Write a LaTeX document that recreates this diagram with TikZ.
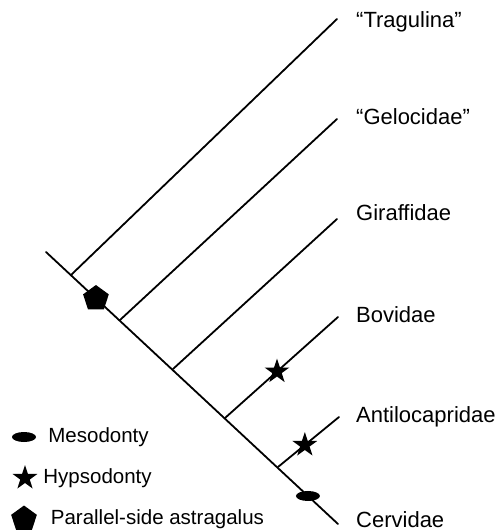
\documentclass[tikz,border=0pt]{standalone}
\usepackage{fontspec}
\setmainfont{Liberation Sans}
\usetikzlibrary{shapes.geometric, positioning, calc}

\begin{document}
\begin{tikzpicture}[x=1pt, y=-1pt,
          branch/.style={line width=1.8pt, line cap=round},
          taxon/.style={anchor=west, inner sep=0pt,
                        font=\fontsize{22}{26}\selectfont},
          keytext/.style={anchor=west, inner sep=0pt,
                        font=\fontsize{20.5}{24}\selectfont},
          meso/.style={ellipse, fill=black, inner sep=0pt,
                       minimum width=24pt, minimum height=10pt},
          hypso/.style={star, star points=5, star point ratio=2.6,
                        fill=black, inner sep=0pt, minimum size=26pt},
          astra/.style={regular polygon, regular polygon sides=5,
                        fill=black, inner sep=0pt, minimum size=27pt}
        ]
        \useasboundingbox (0,0) rectangle (503,531);

        % main stem and its joints
        \coordinate (root) at (46,252);
        \coordinate (ecer) at (338,524);
        \coordinate (j1) at (71,275);
        \coordinate (j2) at (120,320);
        \coordinate (j3) at (173,369);
        \coordinate (j4) at (225,418);
        \coordinate (j5) at (278,467);

        % branch tips
        \coordinate (etra) at (337,19);
        \coordinate (egel) at (337,119);
        \coordinate (egir) at (337,219);
        \coordinate (ebov) at (338,317);
        \coordinate (eant) at (339,417);

        \draw[branch] (root) -- (ecer);
        \draw[branch] (j1) -- (etra);
        \draw[branch] (j2) -- (egel);
        \draw[branch] (j3) -- (egir);
        \draw[branch] (j4) -- (ebov);
        \draw[branch] (j5) -- (eant);

        \node[taxon] (tra) at (356,22)  {``Tragulina''};
        \node[taxon] (gel) at (356,117) {``Gelocidae''};
        \node[taxon] (gir) at (356,213) {Giraffidae};
        \node[taxon] (bov) at (356,315) {Bovidae};
        \node[taxon] (ant) at (356,417) {Antilocapridae};
        \node[taxon] (cer) at (356,520) {Cervidae};

        % characters on the tree
        \node[astra] (pent) at ($(root)!0.171!(ecer)$) {};
        \node[hypso] (hbov) at ($(j4)!0.46!(ebov)$) {};
        \node[hypso] (hant) at ($(j5)!0.44!(eant)$) {};
        \node[meso]  (mcer) at ($(root)!0.897!(ecer)$) {};

        % key
        \node[meso]  (kmeso) at (24,437) {};
        \node[keytext, right=12pt of kmeso] {Mesodonty};
        \node[hypso] (khyps) at (25,478) {};
        \node[keytext, right=11pt of khyps] {Hypsodonty};
        \node[astra] (kastr) at (24,519) {};
        \node[keytext, right=15pt of kastr] {Parallel-side astragalus};
      \end{tikzpicture}
\end{document}
